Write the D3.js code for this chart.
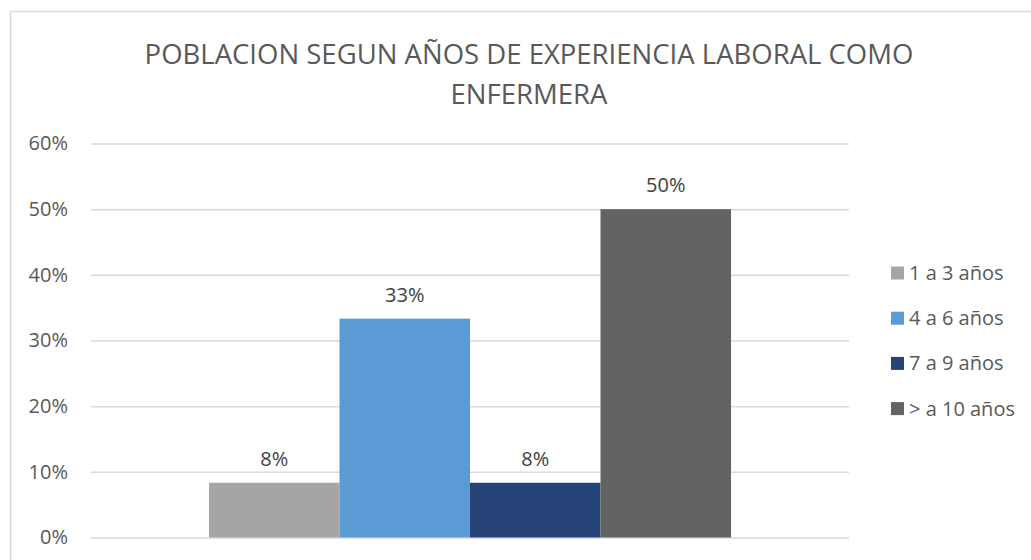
<!DOCTYPE html>
<html lang="es">
  <head>
    <meta charset="UTF-8" />
    <title>Poblacion segun años de experiencia</title>
    <script src="https://cdn.jsdelivr.net/npm/d3@7"></script>
    <style>
      body { margin: 0; background: #fff; }
      svg { display: block; font-family: "Open Sans", "Liberation Sans", sans-serif; }
    </style>
  </head>
  <body>
    <svg width="1031" height="560"></svg>
    <script>
      const categories = ["1 a 3 años", "4 a 6 años", "7 a 9 años", "> a 10 años"];
      const values = [1 / 12, 4 / 12, 1 / 12, 6 / 12];
      const colors = ["#a5a5a5", "#5b9bd5", "#264478", "#636363"];
      const yTicks = [0, 0.1, 0.2, 0.3, 0.4, 0.5, 0.6];
      const titleLines = ["POBLACION SEGUN AÑOS DE EXPERIENCIA LABORAL COMO", "ENFERMERA"];

      const svg = d3.select("svg");
      const textColor = "#595959";

      // chart border (cut off at right/bottom like the screenshot)
      svg.append("rect")
        .attr("x", 10.5).attr("y", 11.5)
        .attr("width", 1040).attr("height", 580)
        .attr("fill", "none").attr("stroke", "#d9d9d9").attr("stroke-width", 1.5);

      const plot = { left: 91, right: 849, top: 143.5, bottom: 537.5 };

      const y = d3.scaleLinear().domain([0, 0.6]).range([plot.bottom, plot.top]);
      const x = d3.scaleBand().domain(["grupo"]).range([plot.left, plot.right]).paddingInner(0).paddingOuter(0.226);
      const xs = d3.scaleBand().domain(categories).range([0, x.bandwidth()]);

      // title
      svg.append("g").selectAll("text")
        .data(titleLines)
        .join("text")
        .attr("x", 529).attr("y", (d, i) => 64 + i * 40)
        .attr("text-anchor", "middle")
        .attr("fill", textColor)
        .attr("font-size", 27.5)
        .text(d => d);

      // gridlines + y labels
      const yAxis = svg.append("g")
        .attr("transform", `translate(${plot.left},0)`)
        .call(d3.axisLeft(y).tickValues(yTicks).tickFormat(d3.format(".0%")).tickSize(-(plot.right - plot.left)).tickPadding(23));
      yAxis.select(".domain").remove();
      yAxis.selectAll(".tick line").attr("stroke", "#d9d9d9").attr("stroke-width", 1.5);
      yAxis.selectAll(".tick text").attr("fill", textColor).attr("font-size", 20).attr("font-family", "Open Sans, sans-serif");

      // bars
      const g = svg.append("g").attr("transform", `translate(${x("grupo")},0)`);
      g.selectAll("rect")
        .data(values)
        .join("rect")
        .attr("x", (d, i) => xs(categories[i]))
        .attr("width", xs.bandwidth())
        .attr("y", d => y(d))
        .attr("height", d => y(0) - y(d))
        .attr("fill", (d, i) => colors[i]);

      g.selectAll("text")
        .data(values)
        .join("text")
        .attr("x", (d, i) => xs(categories[i]) + xs.bandwidth() / 2)
        .attr("y", d => y(d) - 17)
        .attr("text-anchor", "middle")
        .attr("fill", "#404040")
        .attr("font-size", 20)
        .text(d => d3.format(".0%")(d));

      // legend
      const legend = svg.append("g").attr("transform", "translate(891,273)");
      const item = legend.selectAll("g")
        .data(categories)
        .join("g")
        .attr("transform", (d, i) => `translate(0,${i * 45.2})`);
      item.append("rect")
        .attr("x", 0).attr("y", -6.5)
        .attr("width", 13).attr("height", 13)
        .attr("fill", (d, i) => colors[i]);
      item.append("text")
        .attr("x", 18).attr("y", 0)
        .attr("dy", "0.35em")
        .attr("fill", textColor)
        .attr("font-size", 20)
        .text(d => d);
    </script>
  </body>
</html>
